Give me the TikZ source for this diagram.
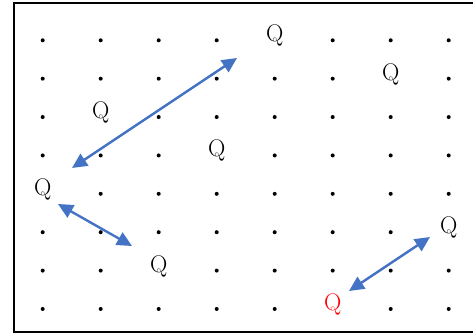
\documentclass[tikz,border=0pt]{standalone}
\usepackage{fontspec}
\usetikzlibrary{arrows.meta}
\definecolor{swapblue}{HTML}{4472C4}
\begin{document}
\begin{tikzpicture}[x=1pt, y=-1pt,
  q/.style={anchor=base, inner sep=0pt, font=\fontsize{24pt}{24pt}\selectfont},
  a/.style={{Triangle[length=15pt,width=14pt]}-{Triangle[length=15pt,width=14pt]}, line width=2.4pt, swapblue}]
\useasboundingbox (0,0) rectangle (473,334);
\draw[line width=2pt] (13.5,3.5) rectangle (490,332);
\foreach \row/\qcol/\clr in {0/4/black,1/6/black,2/1/black,3/3/black,4/0/black,5/7/black,6/2/black,7/5/red} {
  \node[q, text=\clr] (q\row) at ({42.7+58*\qcol},{40.3+38.38*\row+1.5}) {Q};
  \foreach \k in {0,...,7} {\ifnum\k=\qcol\else \fill ({42.7+58*\k},{40.3+38.38*\row}) circle (2pt);\fi}
}
\coordinate (s1) at (237,58);
\coordinate (e1) at (72,168);
\coordinate (s2) at (58,204);
\coordinate (e2) at (132,246);
\coordinate (s3) at (430,237);
\coordinate (e3) at (349,291);
\foreach \x/\y in {s1/e1,s2/e2,s3/e3} {\draw[a] (\x) -- (\y);}
\end{tikzpicture}
\end{document}
